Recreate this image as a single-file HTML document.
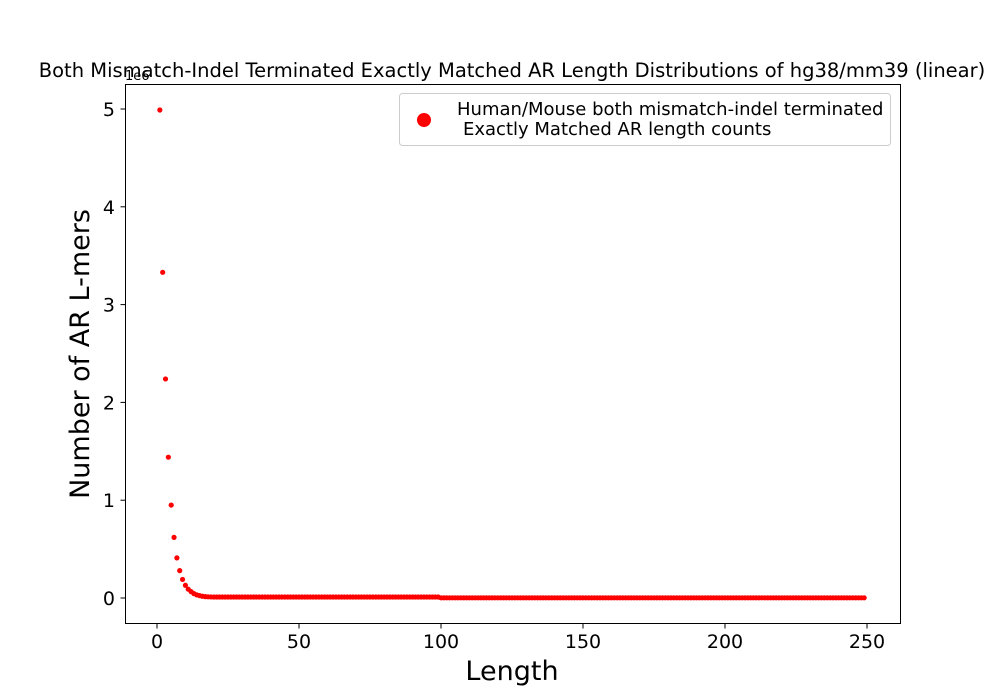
<!DOCTYPE html>
<html><head><meta charset="utf-8"><style>
body{margin:0;background:#fff}
svg{display:block;font-family:"DejaVu Sans","Liberation Sans",sans-serif}
</style></head><body>
<svg id="chart" width="1000" height="700" viewBox="0 0 1000 700" xmlns="http://www.w3.org/2000/svg">
<rect width="1000" height="700" fill="#fff"/>
<text x="512" y="77" font-size="19.5" text-anchor="middle">Both Mismatch-Indel Terminated Exactly Matched AR Length Distributions of hg38/mm39 (linear)</text>
<text x="125" y="80" font-size="13">1e6</text>
<g id="ticks"></g>
<g id="points"></g>
<rect x="125.5" y="84.5" width="775" height="539" fill="none" stroke="#000" stroke-width="1"/>
<text x="512" y="680" font-size="27" text-anchor="middle">Length</text>
<text transform="translate(89,354) rotate(-90)" font-size="27" text-anchor="middle">Number of AR L-mers</text>
<g>
<rect x="399.5" y="93.5" width="491" height="52" rx="3" fill="#fff" stroke="#ccc"/>
<circle cx="424" cy="120" r="7" fill="#ff0000"/>
<text x="457" y="115" font-size="18">Human/Mouse both mismatch-indel terminated</text>
<text x="463" y="135" font-size="18">Exactly Matched AR length counts</text>
</g>
</svg>
<script>
const xTicks=[0,50,100,150,200,250];
const yTicks=[0,1,2,3,4,5];
const headValues=[4.99,3.33,2.24,1.44,0.95,0.62,0.41,0.28,0.19,0.13,0.09,0.065,0.045,0.032,0.024,0.018,0.014,0.012,0.011];
const midValue=0.01;
const tailValue=0.002;
const NS="http://www.w3.org/2000/svg";
function xs(v){return 157+(v-0)*(867-157)/250;}
function ys(v){return 598-v*(598-109)/5;}
const tg=document.getElementById('ticks');
xTicks.forEach(t=>{
  const l=document.createElementNS(NS,'line');
  
  
  l.setAttribute('x1',xs(t));l.setAttribute('x2',xs(t));l.setAttribute('y1',623.5);l.setAttribute('y2',628.5);l.setAttribute('stroke','#000');
  tg.appendChild(l);
  const tx=document.createElementNS(NS,'text');
  
  
  tx.setAttribute('x',xs(t));tx.setAttribute('y',648);tx.setAttribute('font-size','19');tx.setAttribute('text-anchor','middle');
  tx.textContent=t;tg.appendChild(tx);
});
yTicks.forEach(t=>{
  const l=document.createElementNS(NS,'line');
  
  
  l.setAttribute('x1',120.5);l.setAttribute('x2',125.5);l.setAttribute('y1',ys(t));l.setAttribute('y2',ys(t));l.setAttribute('stroke','#000');
  tg.appendChild(l);
  const tx=document.createElementNS(NS,'text');
  
  
  tx.setAttribute('x',115);tx.setAttribute('y',ys(t)+7);tx.setAttribute('font-size','19');tx.setAttribute('text-anchor','end');
  tx.textContent=t;tg.appendChild(tx);
});
const pg=document.getElementById('points');
for(let len=1;len<=249;len++){
  let v;
  if(len<=headValues.length) v=headValues[len-1];
  else if(len<100) v=midValue;
  else v=tailValue;
  const c=document.createElementNS(NS,'circle');
  
  
  c.setAttribute('cx',xs(len));c.setAttribute('cy',ys(v));c.setAttribute('r',2.6);c.setAttribute('fill','#ff0000');
  pg.appendChild(c);
}
</script>
</body></html>
